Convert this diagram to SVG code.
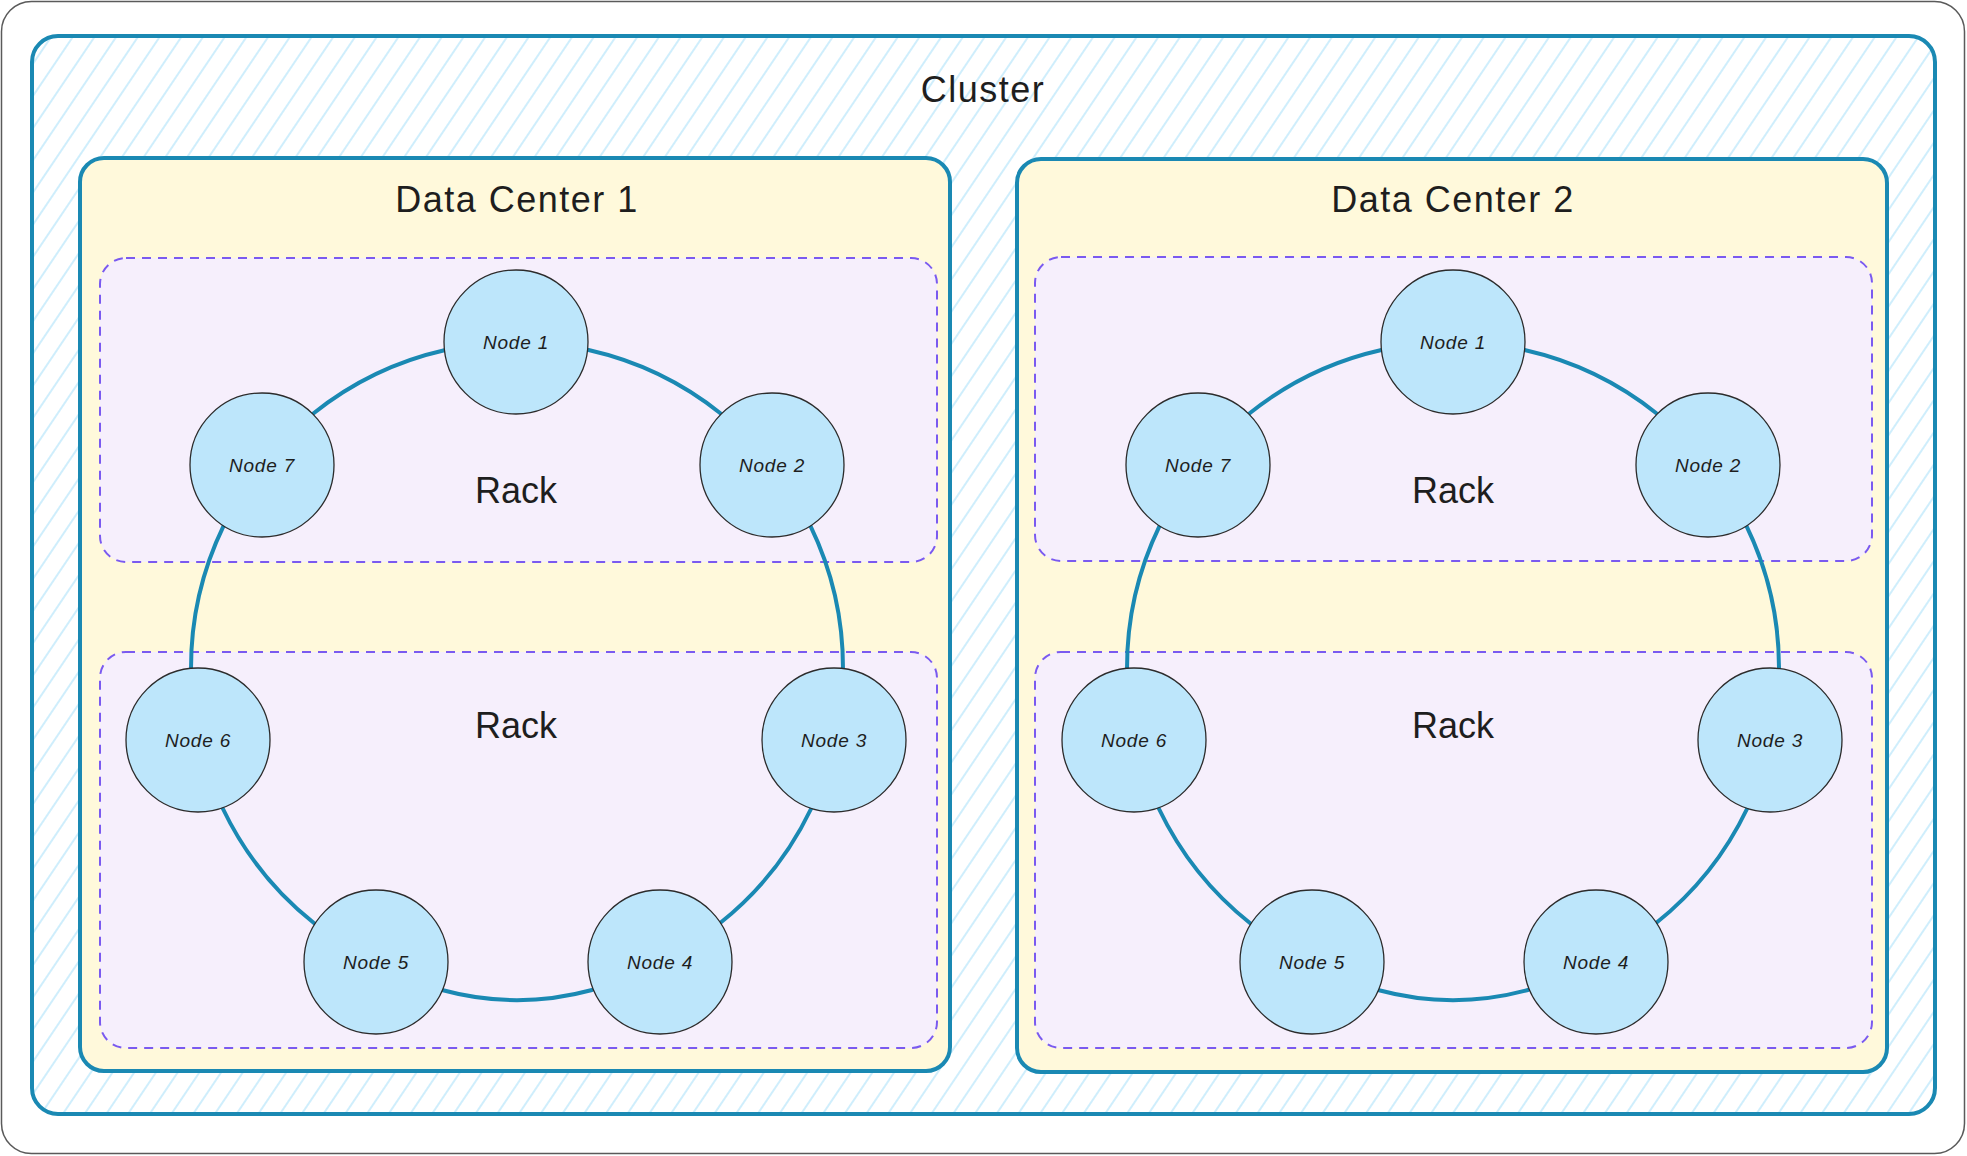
<svg xmlns="http://www.w3.org/2000/svg" width="1967" height="1156" viewBox="0 0 1967 1156">
  <style>
    .title { font-family: "Liberation Sans", Arial, sans-serif; font-size: 36px; fill: #1e1e1e; text-anchor: middle; letter-spacing: 1.5px; }
    .rack-label { font-family: "Liberation Sans", Arial, sans-serif; font-size: 36px; fill: #1e1e1e; text-anchor: middle; }
    .node-label { font-family: "Liberation Sans", Arial, sans-serif; font-size: 19px; font-style: italic; fill: #1e1e1e; text-anchor: middle; letter-spacing: 0.8px; }
    .dc { fill: #fff9db; stroke: #1a89b3; stroke-width: 4; }
    .rack { fill: #f6effc; stroke: #7a5af0; stroke-width: 2; stroke-dasharray: 9 7; }
    .node { fill: #bde6fb; stroke: #2b2b2b; stroke-width: 1.3; }
    .link { fill: none; stroke: #1a89b3; stroke-width: 4; stroke-linecap: round; }
  </style>
  <defs>
    <pattern id="hatch" patternUnits="userSpaceOnUse" width="18" height="18" patternTransform="rotate(34)">
      <rect x="0" y="0" width="18" height="18" fill="#ffffff"/>
      <line x1="9" y1="-2" x2="9" y2="20" stroke="#cfeefc" stroke-width="2"/>
    </pattern>
  </defs>

  <rect x="0" y="0" width="1967" height="1156" fill="#ffffff"/>

  <g id="frame">
    <rect x="1.5" y="1.5" width="1963" height="1152" rx="30" ry="30" fill="#ffffff" stroke="#5a5a5a" stroke-width="1.5"/>
  </g>

  <g id="cluster">
    <rect x="32" y="36" width="1903" height="1078" rx="26" ry="26" fill="url(#hatch)" stroke="#1a89b3" stroke-width="4"/>
    <text class="title" x="983" y="102">Cluster</text>
  </g>

  <g id="dc1">
    <rect class="dc" x="80" y="158" width="870" height="913" rx="24" ry="24"/>
    <text class="title" x="517" y="212">Data Center 1</text>
  </g>
  <g id="dc2">
    <rect class="dc" x="1017" y="159" width="870" height="913" rx="24" ry="24"/>
    <text class="title" x="1453" y="212">Data Center 2</text>
  </g>

  <g id="dc1-rack-top">
    <rect class="rack" x="100" y="258" width="837" height="304" rx="26" ry="26"/>
    <text class="rack-label" x="516" y="503">Rack</text>
  </g>
  <g id="dc1-rack-bottom">
    <rect class="rack" x="100" y="652" width="837" height="396" rx="26" ry="26"/>
    <text class="rack-label" x="516" y="738">Rack</text>
  </g>
  <g id="dc2-rack-top">
    <rect class="rack" x="1035" y="257" width="837" height="304" rx="26" ry="26"/>
    <text class="rack-label" x="1453" y="503">Rack</text>
  </g>
  <g id="dc2-rack-bottom">
    <rect class="rack" x="1035" y="652" width="837" height="396" rx="26" ry="26"/>
    <text class="rack-label" x="1453" y="738">Rack</text>
  </g>

  <g id="connectors">
    <g id="dc1-links">
      <path class="link" d="M588.6,350 A326,326 0 0,1 721,413.7"/>
      <path class="link" d="M810.3,525.6 A326,326 0 0,1 843,669"/>
      <path class="link" d="M811.2,808.5 A326,326 0 0,1 719.5,923.5"/>
      <path class="link" d="M592,990 A286,286 0 0,1 442,990"/>
      <path class="link" d="M314.5,923.5 A326,326 0 0,1 222.8,808.5"/>
      <path class="link" d="M191,669 A326,326 0 0,1 223.7,525.6"/>
      <path class="link" d="M313,413.7 A326,326 0 0,1 445.4,350"/>
    </g>
    <g id="dc2-links">
      <path class="link" d="M1524.6,350 A326,326 0 0,1 1657,413.7"/>
      <path class="link" d="M1746.3,525.6 A326,326 0 0,1 1779,669"/>
      <path class="link" d="M1747.2,808.5 A326,326 0 0,1 1655.5,923.5"/>
      <path class="link" d="M1528,990 A286,286 0 0,1 1378,990"/>
      <path class="link" d="M1250.5,923.5 A326,326 0 0,1 1158.8,808.5"/>
      <path class="link" d="M1127,669 A326,326 0 0,1 1159.7,525.6"/>
      <path class="link" d="M1249,413.7 A326,326 0 0,1 1381.4,350"/>
    </g>
  </g>

  <g id="dc1-node1"><circle class="node" cx="516" cy="342" r="72"/><text class="node-label" x="516" y="349">Node 1</text></g>
  <g id="dc1-node2"><circle class="node" cx="772" cy="465" r="72"/><text class="node-label" x="772" y="472">Node 2</text></g>
  <g id="dc1-node3"><circle class="node" cx="834" cy="740" r="72"/><text class="node-label" x="834" y="747">Node 3</text></g>
  <g id="dc1-node4"><circle class="node" cx="660" cy="962" r="72"/><text class="node-label" x="660" y="969">Node 4</text></g>
  <g id="dc1-node5"><circle class="node" cx="376" cy="962" r="72"/><text class="node-label" x="376" y="969">Node 5</text></g>
  <g id="dc1-node6"><circle class="node" cx="198" cy="740" r="72"/><text class="node-label" x="198" y="747">Node 6</text></g>
  <g id="dc1-node7"><circle class="node" cx="262" cy="465" r="72"/><text class="node-label" x="262" y="472">Node 7</text></g>

  <g id="dc2-node1"><circle class="node" cx="1453" cy="342" r="72"/><text class="node-label" x="1453" y="349">Node 1</text></g>
  <g id="dc2-node2"><circle class="node" cx="1708" cy="465" r="72"/><text class="node-label" x="1708" y="472">Node 2</text></g>
  <g id="dc2-node3"><circle class="node" cx="1770" cy="740" r="72"/><text class="node-label" x="1770" y="747">Node 3</text></g>
  <g id="dc2-node4"><circle class="node" cx="1596" cy="962" r="72"/><text class="node-label" x="1596" y="969">Node 4</text></g>
  <g id="dc2-node5"><circle class="node" cx="1312" cy="962" r="72"/><text class="node-label" x="1312" y="969">Node 5</text></g>
  <g id="dc2-node6"><circle class="node" cx="1134" cy="740" r="72"/><text class="node-label" x="1134" y="747">Node 6</text></g>
  <g id="dc2-node7"><circle class="node" cx="1198" cy="465" r="72"/><text class="node-label" x="1198" y="472">Node 7</text></g>
</svg>
